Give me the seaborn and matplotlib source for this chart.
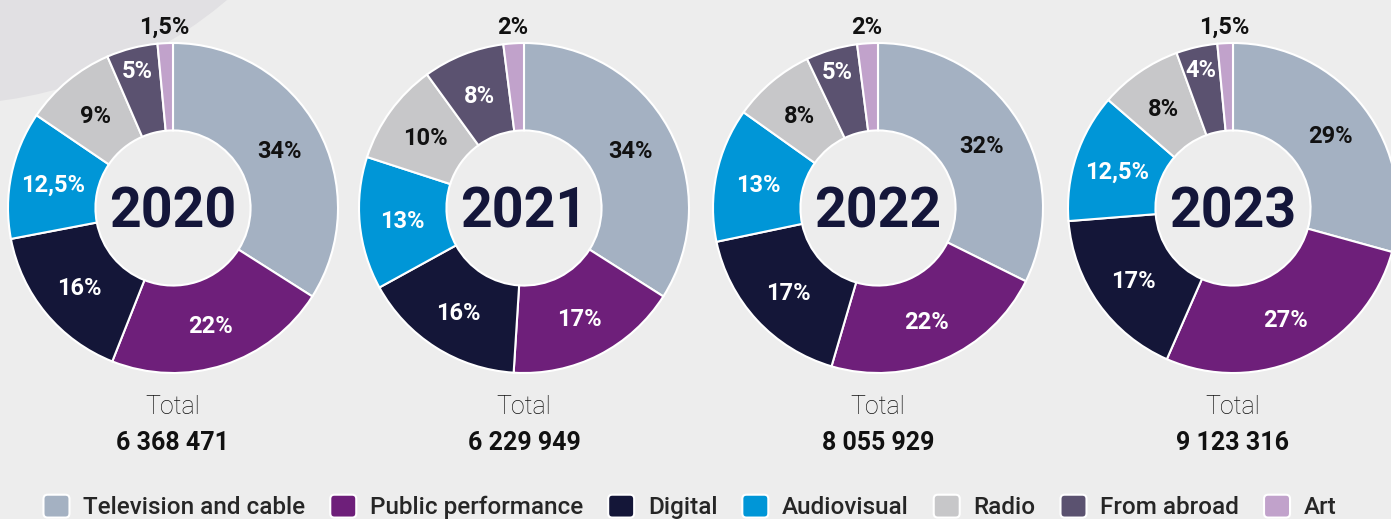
import matplotlib.pyplot as plt
import seaborn as sns
import numpy as np
from matplotlib.patches import Circle, FancyBboxPatch, Patch
from matplotlib.legend_handler import HandlerPatch

sns.set_theme(style="white")
plt.rcParams['font.family'] = ['Roboto', 'DejaVu Sans']

categories = ["Television and cable", "Public performance", "Digital",
              "Audiovisual", "Radio", "From abroad", "Art"]
years = ["2020", "2021", "2022", "2023"]
shares_2020 = [34, 22, 16, 12.5, 9, 5, 1.5]
shares_2021 = [34, 17, 16, 13, 10, 8, 2]
shares_2022 = [32, 22, 17, 13, 8, 5, 2]
shares_2023 = [29, 27, 17, 12.5, 8, 4, 1.5]
totals = ["6 368 471", "6 229 949", "8 055 929", "9 123 316"]

colors = sns.color_palette(["#a4b1c2", "#6e1f7a", "#141638", "#0096d7",
                            "#c7c7c9", "#5b5270", "#c1a2cb"])
text_on = ["#111111", "white", "white", "white", "#111111", "white", "#111111"]
bg = "#ededed"

W, H = 1391, 519
fig = plt.figure(figsize=(W / 100, H / 100), dpi=100, facecolor=bg)

# decorative circle in the corner
bax = fig.add_axes([0, 0, 1, 1])
bax.set_xlim(0, W)
bax.set_ylim(H, 0)
bax.axis("off")
bax.add_patch(Circle((-60, -340), 445, color="#e1e0e3", lw=0))

centers_x = [173, 524, 878, 1233]
cy, R = 208, 165
lim = 1.05


def fmt(v):
    s = f"{v:g}".replace(".", ",")
    return s + "%"


for year, shares, total, cx in zip(years, [shares_2020, shares_2021, shares_2022, shares_2023],
                                   totals, centers_x):
    half = R * lim
    ax = fig.add_axes([(cx - half) / W, (H - cy - half) / H, 2 * half / W, 2 * half / H])
    wedges, _ = ax.pie(shares, colors=colors, startangle=90, counterclock=False,
                       wedgeprops=dict(width=0.53, edgecolor="white", linewidth=1.5))
    ax.set_xlim(-lim, lim)
    ax.set_ylim(-lim, lim)
    ax.axis("off")
    for w, v, tc in zip(wedges, shares, text_on):
        ang = np.deg2rad((w.theta1 + w.theta2) / 2)
        if v <= 2:
            r = 1.11
        elif v <= 5:
            r = 0.87
        else:
            r = 0.74
        ax.text(r * np.cos(ang), r * np.sin(ang), fmt(v), ha="center", va="center_baseline",
                fontsize=17, fontweight="bold", color=tc)
    ax.text(0, -0.121, year, ha="center", va="baseline", fontsize=40,
            fontweight="bold", color="#14163a")
    ax.text(0, -1.248, "Total", ha="center", va="baseline", fontsize=18,
            fontweight="light", color="#111111")
    ax.text(0, -1.467, total, ha="center", va="baseline", fontsize=18,
            fontweight="bold", color="#111111")


def rounded(legend, orig_handle, xdescent, ydescent, width, height, fontsize):
    return FancyBboxPatch((-xdescent, -ydescent), width, height,
                          boxstyle="round,pad=0,rounding_size=3")


handles = [Patch(facecolor=c, edgecolor="white", linewidth=1.5) for c in colors]
fig.legend(handles, categories, ncol=7, loc="center", bbox_to_anchor=(0.496, 0.023),
           frameon=False, prop=dict(weight="medium", size=17.5),
           handlelength=1.07, handleheight=1.07, handletextpad=0.56, columnspacing=1.03,
           borderpad=0, handler_map={Patch: HandlerPatch(patch_func=rounded)})

fig.savefig("out.png", dpi=100, facecolor=bg)
